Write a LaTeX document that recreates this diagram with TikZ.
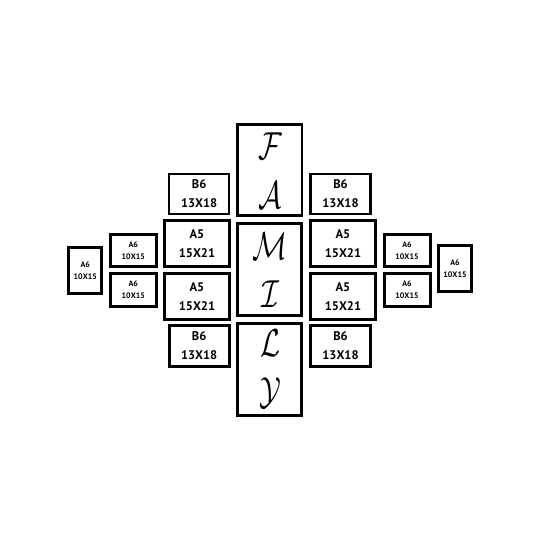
\documentclass[tikz,border=0pt]{standalone}
\usepackage{fontspec}
\newfontfamily\lab{PT Sans}
\newcommand{\scr}[1]{\scalebox{2.9}[3.9]{$\mathcal{#1}$}}
\begin{document}
\begin{tikzpicture}[x=1pt,y=-1pt,
  frame/.style={draw=black,fill=white,line width=3pt,inner sep=0pt,rectangle},
  thinframe/.style={frame,line width=2.4pt},
  big/.style={font=\lab\bfseries\fontsize{12.5}{19}\selectfont,align=center},
  small/.style={font=\lab\bfseries\fontsize{8}{12}\selectfont,align=center},
  script/.style={anchor=base,inner sep=0pt}]
\useasboundingbox[fill=white] (0,0) rectangle (540,540);
% central column
\node[thinframe,minimum width=64.5pt,minimum height=91pt] (fa) at (269.7,169.9) {};
\node[frame,minimum width=64.5pt,minimum height=92pt] (mi) at (269.7,269.2) {};
\node[frame,minimum width=64.5pt,minimum height=92pt] (ly) at (269.7,369.2) {};
\node[script] (lf) at (270,160) {\scr{F}};
\node[script] (la) at (270,208) {\scr{A}};
\node[script] (lm) at (270,259) {\scr{M}};
\node[script] (li) at (270,307) {\scr{I}};
\node[script] (ll) at (270,356) {\scr{L}};
\node[script] (lyy) at (270,404) {\scr{Y}};
% B6
\node[thinframe,big,minimum width=60pt,minimum height=40.5pt] (b6lt) at (199.2,194) {B6\\13X18};
\node[thinframe,big,minimum width=60pt,minimum height=40.5pt] (b6rt) at (340.5,194) {B6\\13X18};
\node[frame,big,minimum width=60pt,minimum height=41pt] (b6lb) at (199.2,345.5) {B6\\13X18};
\node[frame,big,minimum width=60pt,minimum height=41pt] (b6rb) at (340.5,345.5) {B6\\13X18};
% A5
\node[frame,big,minimum width=64.5pt,minimum height=45.7pt] (a5lt) at (197,243.7) {A5\\15X21};
\node[frame,big,minimum width=64.5pt,minimum height=45.7pt] (a5rt) at (343,243.7) {A5\\15X21};
\node[frame,big,minimum width=64.5pt,minimum height=46.3pt] (a5lb) at (197,296.3) {A5\\15X21};
\node[frame,big,minimum width=64.5pt,minimum height=46.3pt] (a5rb) at (343,296.3) {A5\\15X21};
% A6 pairs
\node[frame,small,minimum width=46pt,minimum height=32.6pt] (a6lt) at (133.3,250.5) {A6\\10X15};
\node[frame,small,minimum width=46pt,minimum height=32.6pt] (a6lb) at (133.3,289.9) {A6\\10X15};
\node[frame,small,minimum width=46pt,minimum height=32.6pt] (a6rt) at (407,250.5) {A6\\10X15};
\node[frame,small,minimum width=46pt,minimum height=32.6pt] (a6rb) at (407,289.9) {A6\\10X15};
% A6 singles
\node[frame,small,minimum width=33pt,minimum height=46pt] (a6l) at (85.3,270.5) {A6\\10X15};
\node[frame,small,minimum width=33pt,minimum height=46pt] (a6r) at (455,268.5) {A6\\10X15};
\end{tikzpicture}
\end{document}
